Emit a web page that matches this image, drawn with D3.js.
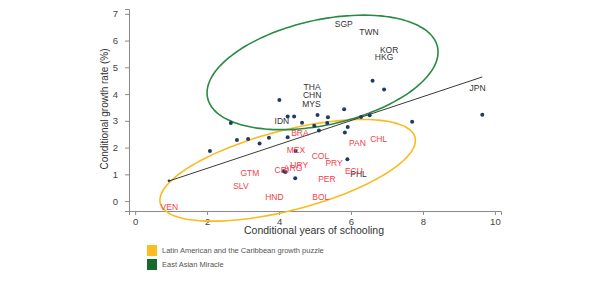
<!DOCTYPE html>
<html>
<head>
<meta charset="utf-8">
<title>Conditional growth vs schooling</title>
<script src="https://d3js.org/d3.v7.min.js"></script>
<style>
  body { margin: 0; background: #fff; }
  svg { display: block; font-family: "Liberation Sans", Arial, sans-serif; }
</style>
</head>
<body>
<svg id="chart" width="600" height="300"></svg>
<script>
// country dots (conditional years of schooling, conditional growth rate)
const dotX = [2.08, 2.66, 2.83, 3.14, 3.46, 3.72, 4.01, 4.24, 4.42, 4.24, 4.46, 4.64, 4.13, 4.18, 4.45,
              4.98, 5.07, 5.11, 5.36, 5.34, 5.81, 5.91, 5.83, 5.90, 6.28, 6.52, 6.60, 6.92, 7.70, 9.65, 0.94];
const dotY = [1.87, 2.92, 2.28, 2.32, 2.15, 2.37, 3.78, 3.16, 3.16, 2.39, 1.87, 2.93, 1.12, 1.09, 0.85,
              2.82, 3.22, 2.64, 3.13, 2.92, 3.43, 2.77, 2.56, 1.56, 3.14, 3.21, 4.50, 4.17, 2.97, 3.23, 0.76];

// country code labels
const asiaCodes = ["SGP", "TWN", "KOR", "HKG", "JPN", "THA", "CHN", "MYS", "IDN", "PHL"];
const asiaX = [5.80, 6.50, 7.06, 6.92, 9.52, 4.92, 4.92, 4.90, 4.08, 6.21];
const asiaY = [6.60, 6.33, 5.63, 5.40, 4.22, 4.28, 3.95, 3.64, 3.00, 1.02];

const latamCodes = ["BRA", "MEX", "COL", "PAN", "CHL", "PRY", "URY", "CRI", "ARG", "GTM", "SLV", "HND", "PER", "BOL", "ECU", "VEN"];
const latamX = [4.58, 4.47, 5.15, 6.18, 6.77, 5.53, 4.56, 4.08, 4.39, 3.19, 2.94, 3.87, 5.33, 5.16, 6.08, 0.95];
const latamY = [2.56, 1.91, 1.68, 2.17, 2.31, 1.41, 1.35, 1.18, 1.25, 1.05, 0.58, 0.16, 0.81, 0.15, 1.13, -0.21];

// fitted line end points
const fitX = [0.94, 9.65];
const fitY = [0.75, 4.64];

// highlight ellipses: centre, half width, half height, tilt (correlation)
const ellipseNames = ["Latin American and the Caribbean  growth puzzle", "East Asian Miracle"];
const ellipseCx = [4.24, 5.21];
const ellipseCy = [1.15, 4.81];
const ellipseW = [3.55, 3.21];
const ellipseH = [1.90, 2.14];
const ellipseR = [0.588, 0.356];
const ellipseColors = ["#f9bb22", "#2a8a43"];
const legendColors = ["#fbbd1f", "#17692c"];

const xTicks = [0, 2, 4, 6, 8, 10];
const yTicks = [0, 1, 2, 3, 4, 5, 6, 7];

const svg = d3.select("#chart");

const x = d3.scaleLinear().domain([-0.17, 10.17]).range([129, 501]);
const y = d3.scaleLinear().domain([-0.37, 7.18]).range([211, 9]);

// axes
const xAxis = svg.append("g")
    .attr("transform", "translate(0,211)")
    .call(d3.axisBottom(x).tickValues(xTicks).tickSize(4).tickPadding(3));
const yAxis = svg.append("g")
    .attr("transform", "translate(129,0)")
    .call(d3.axisLeft(y).tickValues(yTicks).tickSize(4).tickPadding(7));

[xAxis, yAxis].forEach(g => {
    g.select(".domain").attr("stroke", "#8a8a8a");
    g.selectAll(".tick line").attr("stroke", "#8a8a8a");
    g.selectAll(".tick text").attr("fill", "#444").attr("font-size", 9.5)
        .attr("font-family", "Liberation Sans, Arial, sans-serif");
});

svg.append("text")
    .attr("x", 314).attr("y", 234)
    .attr("text-anchor", "middle")
    .attr("font-size", 10.5).attr("fill", "#333")
    .text("Conditional years of schooling");

svg.append("text")
    .attr("transform", "translate(108,109) rotate(-90)")
    .attr("text-anchor", "middle")
    .attr("font-size", 10).attr("fill", "#333")
    .text("Conditional growth rate (%)");

// ellipses, traced in data space
const ts = d3.range(0, 361, 3).map(d => d * Math.PI / 180);
ellipseNames.forEach((name, i) => {
    const pts = ts.map(t => [
        x(ellipseCx[i] + ellipseW[i] * Math.cos(t)),
        y(ellipseCy[i] + ellipseH[i] * (ellipseR[i] * Math.cos(t) + Math.sqrt(1 - ellipseR[i] * ellipseR[i]) * Math.sin(t)))
    ]);
    svg.append("path")
        .attr("d", d3.line().curve(d3.curveCardinalClosed)(pts.slice(0, -1)))
        .attr("fill", "none")
        .attr("stroke", ellipseColors[i])
        .attr("stroke-width", 1.6);
});

// fitted line
svg.append("line")
    .attr("x1", x(fitX[0])).attr("y1", y(fitY[0]))
    .attr("x2", x(fitX[1])).attr("y2", y(fitY[1]))
    .attr("stroke", "#3a3a3a").attr("stroke-width", 1);

// dots
svg.append("g").selectAll("circle")
    .data(dotX.map((d, i) => ({ x: d, y: dotY[i] })))
    .join("circle")
    .attr("cx", d => x(d.x))
    .attr("cy", d => y(d.y))
    .attr("r", (d, i) => i === dotX.length - 1 ? 1.3 : 2)
    .attr("fill", "#1d3b66");

// labels
const addLabels = (codes, xs, ys, color) => {
    svg.append("g").selectAll("text")
        .data(codes)
        .join("text")
        .attr("x", (d, i) => x(xs[i]))
        .attr("y", (d, i) => y(ys[i]))
        .attr("dy", "0.35em")
        .attr("text-anchor", "middle")
        .attr("font-size", 8.5)
        .attr("fill", color)
        .text(d => d);
};
addLabels(asiaCodes, asiaX, asiaY, "#333");
addLabels(latamCodes, latamX, latamY, "#f6404a");

// legend
const legend = svg.append("g").selectAll("g")
    .data(ellipseNames)
    .join("g")
    .attr("transform", (d, i) => `translate(147,${245 + i * 14})`);
legend.append("rect")
    .attr("width", 10).attr("height", 11)
    .attr("fill", (d, i) => legendColors[i]);
legend.append("text")
    .attr("x", 15).attr("y", 5.5).attr("dy", "0.35em")
    .attr("font-size", 7.5).attr("fill", "#555")
    .text(d => d);
</script>
</body>
</html>
